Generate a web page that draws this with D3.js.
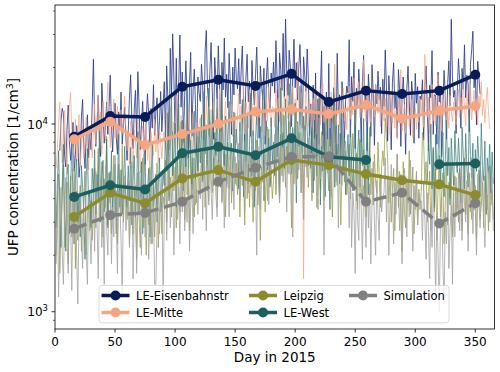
<!DOCTYPE html>
<html><head><meta charset="utf-8">
<script src="https://cdn.jsdelivr.net/npm/d3@7"></script>
<style>body{margin:0;background:#fff} svg{display:block} text{font-family:"DejaVu Sans",sans-serif;fill:#000}</style>
</head><body><svg id="c" width="500" height="372"></svg>
<script>
// ---- data ----
const seriesNames = ["LE-Eisenbahnstr","LE-Mitte","Leipzig","LE-West","Simulation"];
const monthDays = [16,46,75,106,136,167,197,228,259,289,320,350];
const eisenMonthly   = [8550,11040,10900,15800,17200,15960,18500,13100,15060,14460,15060,18280];
const mitteMonthly   = [8290,10290,7720,8840,10000,11630,11980,11310,12630,10670,11780,12480];
const leipzigMonthly = [3200,4300,3780,5130,5680,4920,6430,6040,5410,5020,4770,4180];
const westMonthly    = [4090,4720,4480,6980,7570,6820,8390,6690,6430,null,6110,6160];
const simMonthly     = [2770,3270,3360,3850,4920,5850,6690,6720,3850,4300,2950,3780];
const xTicks = [0,50,100,150,200,250,300,350];
const yMajorTicks = [1000,10000];
const yMinorTicks = [900,2000,3000,4000,5000,6000,7000,8000,9000,20000,30000,40000];

// daily values, thousand particles per cm3, day 1..365 (one row per month)
const eisenDaily = [
null,null,null,7.2,10.5,12.1,11.4,6.8,5.9,9.3,12.6,8.1,6.4,7.7,10.2,5.6,6.9,9.8,8.4,5.2,6.3,10.9,13.5,7.5,5.8,8.8,11.2,6.6,9.1,7.3,12.8,
22.1,10.4,7.6,9.9,14.2,8.3,6.7,16.5,11.8,7.9,9.6,13.1,8.8,12.4,18.2,9.7,7.1,10.8,12.9,8.5,6.9,11.6,9.4,14.8,7.8,10.1,12.3,8.6,
6.4,9.2,13.7,18.3,10.6,7.4,11.9,15.1,8.2,19.0,12.4,7.3,9.8,13.2,8.9,6.1,10.7,14.5,11.3,7.8,12.1,9.5,16.2,8.7,11.6,13.8,7.9,10.4,14.9,9.1,12.7,
16.8,8.4,20.4,13.5,7.3,25.3,14.1,30.2,17.6,8.9,22.4,7.4,15.7,29.8,12.3,18.9,7.9,14.2,21.7,13.4,6.6,16.3,24.1,8.6,15.2,19.6,12.7,7.0,17.8,14.6,
13.2,20.8,16.1,8.2,24.5,31.5,15.6,12.4,19.3,27.2,14.8,8.3,22.6,17.4,13.6,26.1,16.9,7.9,21.3,15.2,28.7,13.9,18.4,12.2,23.8,16.6,8.8,20.1,14.3,25.4,17.5,
15.4,22.3,12.8,19.1,26.0,14.2,8.1,17.6,23.5,13.1,16.9,8.6,21.8,15.7,12.6,18.3,25.7,14.9,8.4,20.4,16.1,13.5,19.8,7.8,17.2,22.6,14.4,12.1,18.7,15.9,
21.4,14.6,27.8,17.2,9.2,23.9,19.5,15.1,30.4,13.8,36.2,18.6,14.2,24.7,20.1,9.7,17.8,28.3,15.6,21.2,13.4,19.9,26.5,16.3,9.5,22.8,18.1,14.9,25.1,17.4,8.7,
12.8,7.0,16.1,8.4,18.7,6.7,13.6,7.8,15.3,24.5,7.4,12.5,5.7,14.8,8.3,21.0,7.6,13.9,6.2,15.6,12.2,6.8,23.8,11.7,14.3,6.5,16.8,12.9,8.0,13.4,15.9,
14.6,28.1,8.5,17.9,13.2,21.4,7.4,15.5,12.1,19.6,14.2,8.0,16.8,23.2,12.6,15.1,7.2,18.4,13.9,8.6,20.7,14.8,7.7,16.2,12.8,19.1,13.5,15.7,8.9,17.3,
12.4,24.8,15.9,8.1,18.1,13.3,7.3,16.6,21.2,12.1,14.8,8.5,19.5,15.2,7.6,13.7,17.8,12.6,6.9,15.4,20.3,13.1,8.7,16.9,14.2,7.9,18.6,12.9,15.8,8.4,14.1,
13.5,17.2,8.2,15.6,20.4,12.3,7.2,16.1,13.8,24.6,8.8,14.3,14.2,7.8,18.9,13.1,15.7,6.7,12.8,19.3,14.6,8.3,16.4,21.7,12.5,36.1,17.6,13.9,15.1,8.9,
14.9,22.3,17.1,9.5,19.8,15.3,26.4,13.8,18.2,16.4,9.1,20.7,24.9,31.2,15.6,19.4,9.9,21.6,17.8,14.4,null,null,null,null,null,null,null,null,null,null,null];
const mitteDaily = [
5.8,7.4,10.2,13.1,8.6,6.2,9.5,11.8,7.1,5.4,8.9,12.4,14.7,9.2,6.8,7.9,10.6,6.3,8.1,11.2,5.9,7.6,9.8,6.5,8.4,10.9,7.2,5.7,9.1,8.2,6.6,
9.4,12.8,7.8,10.5,14.3,8.7,11.6,6.9,13.2,9.9,8.1,12.1,16.7,10.3,7.5,11.4,9.2,13.6,8.4,10.8,12.5,7.3,9.7,11.9,8.9,10.1,14.1,9.5,
7.2,8.9,6.1,10.4,7.7,5.8,9.3,8.1,6.6,11.2,7.4,5.5,8.6,9.8,6.9,7.8,10.1,6.4,8.3,5.9,9.1,7.5,6.8,10.6,7.1,8.8,6.2,9.4,7.9,6.5,8.4,
9.1,7.3,11.4,8.2,6.7,12.6,9.5,7.8,10.3,8.6,14.2,7.4,9.8,6.9,11.1,8.3,7.6,10.7,9.2,6.5,12.1,8.8,7.1,9.6,11.5,8.1,6.8,10.2,8.7,9.9,
10.8,8.4,12.6,9.3,7.5,14.1,10.2,8.7,11.9,9.1,7.8,13.4,10.5,8.2,12.2,9.7,15.3,8.9,11.1,7.6,10.4,13.2,9.4,8.1,11.7,10.1,12.8,8.6,9.9,11.4,7.9,
11.3,14.6,9.2,12.5,10.1,16.4,8.8,13.1,11.7,9.5,15.2,10.6,12.9,8.7,11.4,17.1,9.9,13.6,10.8,12.2,9.1,14.3,11.1,8.6,13.5,10.4,15.8,11.6,9.7,12.4,
12.1,9.6,15.4,11.2,13.8,10.3,17.2,12.6,9.8,14.1,11.5,16.3,10.7,13.2,9.4,12.8,15.9,11.1,13.6,10.2,21.5,12.3,9.9,14.7,11.8,1.5,10.6,16.2,12.4,9.7,13.5,
11.4,9.2,13.7,10.5,15.1,8.8,12.3,14.6,9.9,11.8,16.4,10.2,12.9,8.6,13.4,11.1,9.5,14.8,10.7,12.6,20.8,9.8,11.5,13.9,10.1,8.9,12.7,15.6,10.4,11.9,9.3,
12.8,15.9,10.6,13.4,11.2,17.6,9.9,14.3,12.1,16.8,10.8,13.7,11.5,22.0,12.4,10.3,14.9,11.7,13.1,9.8,15.4,12.6,10.9,16.2,13.3,11.4,14.6,9.7,12.9,15.1,
10.4,13.8,9.1,11.6,15.2,8.7,12.3,10.1,14.4,9.5,11.9,8.3,13.1,10.8,19.5,9.2,11.4,12.7,8.9,10.6,14.3,9.7,11.2,13.5,8.5,10.9,12.1,9.4,11.7,10.2,13.6,
11.3,14.7,9.6,23.5,12.4,10.8,13.9,8.9,12.1,16.2,10.4,14.1,9.8,11.7,18.3,10.6,12.9,9.2,13.6,11.1,15.4,10.1,12.6,9.5,14.2,11.8,10.3,13.1,12.2,9.9,
12.6,15.3,10.8,13.9,11.4,17.2,12.1,9.8,14.6,11.9,13.2,16.4,10.5,12.8,15.1,11.3,13.7,9.9,14.2,12.4,16.8,11.1,13.5,10.2,12.9,15.7,11.6,9.4,null,null,null];
const leipzigDaily = [
2.0,3.9,5.4,1.6,2.7,4.2,6.1,2.2,3.0,4.9,1.8,3.7,5.3,2.5,3.4,5.8,1.7,4.4,2.4,3.5,4.7,2.1,2.9,4.0,5.6,2.0,3.2,4.4,2.7,3.9,2.4,
3.5,5.8,2.8,4.8,7.4,3.0,4.1,6.3,2.5,5.1,3.6,8.6,2.9,4.6,5.6,2.6,4.0,6.8,3.2,4.4,2.3,6.1,3.8,3.3,7.7,3.0,4.9,4.0,
3.1,5.0,2.3,3.8,6.0,2.6,4.5,3.4,1.9,5.5,3.2,2.2,4.3,6.6,2.8,3.9,2.0,4.7,2.9,5.9,2.3,3.6,4.9,2.5,3.8,6.2,2.2,3.4,4.4,2.6,4.1,
3.7,6.4,3.0,7.9,4.1,5.2,3.2,9.1,4.4,5.9,2.8,7.0,4.6,3.4,10.3,3.9,6.1,3.1,7.4,4.2,5.3,2.7,8.2,4.5,6.6,3.2,5.5,3.8,8.6,4.8,
4.3,7.1,4.9,9.2,3.6,6.0,7.5,3.9,10.3,5.1,4.3,6.6,5.5,8.4,3.6,6.4,4.7,11.2,3.9,5.8,7.2,3.2,5.4,8.0,4.5,6.9,3.8,5.7,8.8,4.8,6.2,
4.2,6.4,3.2,7.4,4.7,5.6,2.9,8.9,4.0,6.1,3.6,6.9,4.6,3.0,6.6,4.4,8.2,3.7,5.3,2.4,5.9,4.9,7.2,3.4,5.8,3.9,9.4,4.7,5.4,4.0,
5.0,8.1,4.2,9.6,5.7,3.8,8.8,5.3,11.2,6.4,4.6,7.6,5.5,10.3,6.1,2.8,8.3,4.8,7.1,12.0,5.1,6.2,9.0,4.3,6.7,4.0,9.8,5.9,7.6,4.6,7.3,
6.2,3.9,8.0,5.0,9.9,5.8,3.5,7.4,4.5,9.1,6.5,3.9,5.4,10.6,6.0,4.4,8.3,5.2,3.2,6.8,11.4,5.6,4.7,7.8,6.3,2.9,5.8,8.7,4.9,7.2,4.2,
5.2,7.8,4.0,6.3,8.9,4.4,5.6,7.0,3.5,6.1,8.3,4.6,4.0,7.3,5.4,3.2,6.5,5.0,9.6,4.2,5.8,3.7,6.9,4.9,4.3,8.0,5.2,3.6,5.9,7.2,
6.0,10.7,8.6,6.6,3.8,5.2,3.0,4.5,5.8,2.7,4.8,6.9,3.6,5.6,3.1,2.1,6.3,3.4,2.8,5.0,3.8,7.2,3.3,4.6,5.9,2.6,3.8,5.4,2.9,4.5,3.5,
4.4,9.0,8.2,4.9,6.3,3.0,4.1,5.6,2.7,4.7,7.3,3.4,5.8,2.4,4.6,6.8,3.2,4.3,5.5,2.3,3.8,6.3,2.9,4.9,4.0,6.0,2.5,4.4,5.3,3.2,
4.5,3.0,5.8,3.8,2.7,5.1,6.6,3.3,4.4,2.6,5.5,4.0,3.1,6.2,3.5,4.7,2.4,4.2,5.7,3.1,3.7,4.9,2.8,5.3,3.3,4.2,2.7,6.0,3.7,4.5,3.1];
const westDaily = [
2.8,5.0,7.2,3.8,2.2,4.6,7.8,3.1,2.1,5.5,6.1,2.6,4.3,8.7,3.6,2.3,5.1,6.5,3.0,4.1,2.5,6.0,4.6,3.3,1.9,5.3,7.4,3.5,4.4,2.8,5.8,
4.4,7.3,3.3,5.4,3.9,9.2,3.0,5.1,6.4,3.4,4.2,8.3,2.8,5.5,3.8,7.2,3.1,4.9,6.1,2.6,4.5,8.8,3.6,5.7,3.3,4.7,7.6,4.1,
3.6,6.0,3.9,7.5,2.9,5.0,6.8,3.2,4.5,9.1,3.4,4.0,6.3,2.6,5.1,7.1,3.3,4.3,5.8,2.5,4.8,8.1,3.6,4.2,5.4,3.0,4.6,6.6,3.4,3.9,5.6,
4.7,9.0,5.6,11.5,3.9,7.5,14.3,5.3,6.6,10.1,3.6,8.1,12.8,4.9,6.2,10.5,4.4,8.4,5.9,15.9,5.0,9.3,6.8,4.0,7.9,11.7,5.1,7.3,5.6,9.6,
6.2,11.2,5.0,14.9,6.9,9.9,4.4,15.5,8.2,5.5,12.0,4.7,9.0,6.8,13.6,5.4,10.3,4.6,16.3,7.2,6.0,11.0,4.8,8.8,13.2,6.5,7.9,4.4,11.6,7.1,9.4,
7.2,4.5,10.2,5.5,13.5,4.1,8.6,6.3,11.2,4.8,7.8,14.6,5.3,9.2,3.6,8.2,11.9,5.8,4.9,9.7,6.8,15.2,3.9,7.6,10.4,5.7,8.4,4.6,10.8,6.3,
8.0,5.3,12.1,6.7,10.0,4.1,15.6,7.5,9.0,5.8,13.6,8.3,6.4,16.4,10.8,5.4,9.6,7.1,12.9,3.8,10.3,7.6,15.9,8.5,5.9,11.0,6.5,12.4,9.3,6.0,10.4,
5.8,9.6,4.3,8.1,11.9,5.3,6.9,13.8,3.7,7.6,5.6,10.1,4.1,7.3,10.9,6.2,3.5,9.0,7.0,14.6,4.6,7.8,6.0,9.9,4.8,6.7,11.4,5.6,8.5,4.2,6.5,
8.8,5.3,9.9,6.2,4.4,7.9,11.9,3.9,6.9,9.3,4.6,8.2,6.0,10.7,3.8,6.6,9.0,4.2,7.3,10.2,null,null,null,null,null,null,null,null,null,null,
null,null,null,null,null,null,null,null,null,null,null,null,null,null,null,null,null,null,null,null,null,null,null,null,null,null,null,null,null,null,null,
null,null,null,null,null,4.9,8.0,6.1,10.0,4.5,7.5,3.6,8.8,5.7,6.6,11.6,4.6,7.1,9.0,4.1,6.3,10.5,5.3,7.5,3.7,8.4,6.1,4.7,9.2,6.4,
5.5,8.4,6.2,3.8,9.6,6.9,4.5,8.9,5.9,4.6,11.8,6.8,5.2,7.9,3.6,7.3,5.6,8.6,6.4,4.1,10.1,6.0,5.0,8.1,3.3,6.6,5.4,7.8,4.3,7.1,4.8];
const simDaily = [
1.8,3.8,1.2,2.8,4.6,2.1,1.4,3.3,5.2,2.4,1.6,4.0,3.0,1.3,4.3,2.3,5.0,2.0,1.1,3.1,4.4,2.6,1.7,3.6,5.6,2.1,1.4,4.1,2.8,1.8,3.4,
4.4,2.1,5.6,3.0,1.5,4.0,5.1,2.2,3.5,1.4,6.0,2.8,2.0,4.2,4.7,1.8,3.6,2.5,6.8,3.1,1.6,4.5,3.8,2.4,1.2,4.4,5.3,2.7,
3.2,5.2,2.2,4.1,6.3,1.5,3.4,4.7,1.6,3.8,5.6,2.8,2.0,4.3,6.9,2.5,3.6,4.6,1.9,3.1,5.8,2.3,3.9,1.4,1.4,2.9,4.9,2.6,3.8,5.4,1.05,
3.3,5.6,2.4,4.3,6.9,2.8,3.7,5.0,2.0,3.9,6.3,3.1,4.6,2.3,5.4,3.4,7.5,2.7,4.1,3.0,5.8,2.1,3.6,4.8,2.6,6.6,3.7,4.5,3.3,5.2,
4.0,6.5,3.1,7.6,4.7,2.7,6.0,3.7,8.5,4.4,3.1,5.4,7.0,4.1,3.2,6.3,4.9,9.1,3.8,5.6,2.8,6.9,4.6,5.3,3.2,7.9,4.2,5.8,3.5,6.7,4.7,
5.3,7.9,3.9,8.8,4.8,6.7,3.4,9.9,5.8,4.3,7.3,4.6,9.3,4.0,6.3,5.1,2.0,7.6,5.6,3.5,8.2,5.9,4.1,6.9,5.0,9.6,3.7,6.5,5.5,6.2,
6.2,8.8,4.5,9.6,5.8,3.8,7.8,7.1,4.9,11.0,6.1,3.4,8.3,5.4,9.2,6.6,2.5,8.1,6.0,4.7,10.1,5.7,7.6,4.3,7.1,3.1,9.3,6.4,5.2,8.4,6.1,
7.0,4.6,9.4,5.8,8.2,3.6,7.1,10.8,5.1,6.3,8.7,2.0,6.6,9.8,5.5,7.5,5.9,4.1,10.2,6.4,7.9,4.9,6.9,2.8,8.9,5.7,4.7,9.3,6.8,8.1,5.2,
5.2,2.8,6.4,2.2,4.3,3.4,1.6,5.6,3.1,2.4,6.1,3.5,1.9,4.7,3.9,2.2,5.7,2.8,4.8,1.8,3.8,6.3,3.0,2.0,5.0,3.3,2.4,5.4,3.4,4.1,
4.3,6.6,3.0,5.3,2.0,3.8,6.1,4.1,2.3,4.9,3.3,6.9,4.4,2.7,5.4,1.8,3.6,5.8,4.6,2.5,5.1,3.2,6.4,4.0,2.1,4.7,3.5,5.6,2.9,4.3,3.8,
3.9,2.4,4.9,3.1,1.9,4.3,2.7,1.5,3.6,2.2,4.8,2.6,1.2,3.3,2.0,1.0,2.9,4.1,1.8,1.1,3.4,2.3,4.6,1.7,2.8,3.7,1.4,4.3,2.5,5.2,
3.5,5.5,2.7,4.5,2.4,6.0,3.8,3.0,5.0,2.1,4.2,3.4,6.6,2.6,4.7,3.6,2.0,5.4,3.9,2.8,4.8,5.8,3.2,2.2,4.3,3.5,5.6,3.0,3.8,5.2,2.7];

// ---- styling ----
const meanColors  = ["#081d58","#f4a582","#8c8c2e","#1c5f5f","#808080"];
const dailyColors = ["#2b3d8c","#f4a582","#9b9b45","#3d7f7f","#a3a3a3"];
const dailyOpacity = [0.85,0.7,0.75,0.75,0.8];

const svg = d3.select("#c");
const M = {l:55, r:494.5, t:5, b:329};
const x = d3.scaleLinear().domain([0,366]).range([M.l, M.r]);
const y = d3.scaleLog().domain([809, 43050]).range([M.b, M.t]);

const dailyAll = [eisenDaily, mitteDaily, leipzigDaily, westDaily, simDaily];
const monthlyAll = [eisenMonthly, mitteMonthly, leipzigMonthly, westMonthly, simMonthly];

svg.append("defs").append("clipPath").attr("id","clip")
  .append("rect").attr("x",M.l).attr("y",M.t).attr("width",M.r-M.l).attr("height",M.b-M.t);
const plot = svg.append("g").attr("clip-path","url(#clip)");

const dline = d3.line().defined(d=>d.v!=null).x(d=>x(d.day)).y(d=>y(d.v*1000));
dailyAll.forEach((arr,i)=>{
  const pts = arr.map((v,k)=>({day:k+1, v:v}));
  plot.append("path").attr("d", dline(pts)).attr("fill","none")
    .attr("stroke", dailyColors[i]).attr("stroke-width",1).attr("stroke-opacity", dailyOpacity[i])
    .attr("stroke-linejoin","round");
});

const mline = d3.line().defined(d=>d.v!=null).x(d=>x(d.day)).y(d=>y(d.v));
monthlyAll.forEach((arr,i)=>{
  const pts = arr.map((v,k)=>({day:monthDays[k], v:v}));
  plot.append("path").attr("d", mline(pts)).attr("fill","none")
    .attr("stroke", meanColors[i]).attr("stroke-width",3.5)
    .attr("stroke-dasharray", i===4 ? "13,5.6" : null)
    .attr("stroke-linejoin","round");
  plot.selectAll(null).data(pts.filter(d=>d.v!=null)).enter().append("circle")
    .attr("cx",d=>x(d.day)).attr("cy",d=>y(d.v)).attr("r",5).attr("fill",meanColors[i]);
});

// frame
svg.append("rect").attr("x",M.l).attr("y",M.t).attr("width",M.r-M.l).attr("height",M.b-M.t)
  .attr("fill","none").attr("stroke","#000").attr("stroke-width",0.8);

// x axis
const gx = svg.append("g");
xTicks.forEach(t=>{
  gx.append("line").attr("x1",x(t)).attr("x2",x(t)).attr("y1",M.b).attr("y2",M.b+3.5).attr("stroke","#000").attr("stroke-width",0.8);
  gx.append("text").attr("x",x(t)).attr("y",M.b+17).attr("text-anchor","middle").attr("font-size",12).text(t);
});
svg.append("text").attr("x",(M.l+M.r)/2).attr("y",362).attr("text-anchor","middle").attr("font-size",13.5).text("Day in 2015");

// y axis
yMinorTicks.forEach(t=>{
  svg.append("line").attr("x1",M.l-2).attr("x2",M.l).attr("y1",y(t)).attr("y2",y(t)).attr("stroke","#000").attr("stroke-width",0.6);
});
yMajorTicks.forEach(t=>{
  svg.append("line").attr("x1",M.l-3.5).attr("x2",M.l).attr("y1",y(t)).attr("y2",y(t)).attr("stroke","#000").attr("stroke-width",0.8);
  const tx = svg.append("text").attr("x",M.l-7).attr("y",y(t)+4.5).attr("text-anchor","end").attr("font-size",12);
  tx.append("tspan").text("10");
  tx.append("tspan").attr("dy",-5).attr("font-size",8.5).text(String(Math.round(Math.log10(t))));
});
const yl = svg.append("text").attr("transform",`translate(17.5,${(M.t+M.b)/2}) rotate(-90)`)
  .attr("text-anchor","middle").attr("font-size",13.5);
yl.append("tspan").text("UFP concentration [1/cm");
yl.append("tspan").attr("dy",-5).attr("font-size",9.5).text("3");
yl.append("tspan").attr("dy",5).text("]");

// legend
const lg = svg.append("g");
lg.append("rect").attr("x",99).attr("y",285.5).attr("width",350).attr("height",37.3).attr("rx",3)
  .attr("fill","#fff").attr("fill-opacity",0.8).attr("stroke","#d0d0d0").attr("stroke-width",0.8);
const legendPos = [[101.5,295.5],[101.5,312.5],[249,295.5],[249,312.5],[349,295.5]];
seriesNames.forEach((name,i)=>{
  const [lx,ly] = legendPos[i];
  lg.append("line").attr("x1",lx).attr("x2",lx+28).attr("y1",ly).attr("y2",ly)
    .attr("stroke",meanColors[i]).attr("stroke-width",3.5).attr("stroke-dasharray", i===4 ? "13,5.6" : null);
  lg.append("circle").attr("cx",lx+14).attr("cy",ly).attr("r",5).attr("fill",meanColors[i]);
  lg.append("text").attr("x",lx+34.5).attr("y",ly+4).attr("font-size",11.5).text(name);
});
</script></body></html>
